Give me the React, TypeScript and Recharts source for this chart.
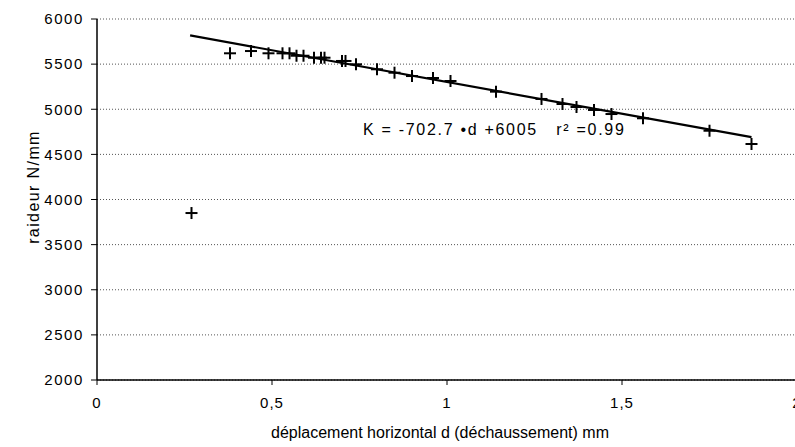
import React from "react";
import { ScatterChart, Scatter, XAxis, YAxis, CartesianGrid } from "recharts";

const measuredD = [0.27, 0.38, 0.44, 0.49, 0.53, 0.55, 0.57, 0.59, 0.62, 0.64, 0.65, 0.70, 0.71, 0.74, 0.80, 0.85, 0.90, 0.96, 1.01, 1.14, 1.27, 1.33, 1.37, 1.42, 1.47, 1.56, 1.75, 1.87];
const measuredK = [3850, 5620, 5645, 5620, 5620, 5620, 5593, 5593, 5571, 5571, 5571, 5535, 5535, 5498, 5443, 5405, 5368, 5346, 5313, 5195, 5114, 5058, 5025, 4992, 4947, 4900, 4762, 4615];

const trendD = [0.266, 1.87];
const trendK = [5818, 4691];

const xTicks = [0, 0.5, 1, 1.5, 2];
const yTicks = [2000, 2500, 3000, 3500, 4000, 4500, 5000, 5500, 6000];

const equationText = "K = -702.7 \u2022d +6005   r\u00B2 =0.99";
const xTitle = "déplacement horizontal d (déchaussement) mm";
const yTitle = "raideur N/mm";

const points = measuredD.map((d, i) => ({ d, K: measuredK[i] }));
const trend = trendD.map((d, i) => ({ d, K: trendK[i] }));

const Cross = (props: any) => {
  const { cx, cy } = props;
  if (cx == null || cy == null) return null;
  const s = 6;
  return (
    <g stroke="#000" strokeWidth={2}>
      <line x1={cx - s} y1={cy} x2={cx + s} y2={cy} />
      <line x1={cx} y1={cy - s} x2={cx} y2={cy + s} />
    </g>
  );
};

const fmtX = (v: number) => String(v).replace(".", ",");
const font = "'Liberation Sans', Arial, sans-serif";

export default function App() {
  return (
    <div style={{ position: "absolute", left: 0, top: 0, width: 795, height: 447, overflow: "hidden", background: "#fff" }}>
      <ScatterChart width={810} height={447} margin={{ top: 19, right: 13, bottom: 37, left: 40 }}>
        <CartesianGrid vertical={false} stroke="#555" strokeDasharray="1 2" />
        <XAxis
          type="number"
          dataKey="d"
          domain={[0, 2]}
          ticks={xTicks}
          tickFormatter={fmtX}
          height={30}
          tickSize={5}
          tickMargin={12}
          axisLine={{ stroke: "#000", strokeWidth: 1.5 }}
          tickLine={{ stroke: "#000" }}
          tick={{ fill: "#000", fontSize: 15, fontFamily: font, letterSpacing: 1 }}
          allowDataOverflow
        />
        <YAxis
          type="number"
          dataKey="K"
          domain={[2000, 6000]}
          ticks={yTicks}
          width={57}
          tickSize={6}
          tickMargin={7}
          axisLine={{ stroke: "#000", strokeWidth: 1.5 }}
          tickLine={{ stroke: "#000" }}
          tick={{ fill: "#000", fontSize: 15, fontFamily: font, letterSpacing: 1.6 }}
          allowDataOverflow
        />
        <Scatter data={trend} line={{ stroke: "#000", strokeWidth: 2.2 }} shape={() => null} isAnimationActive={false} />
        <Scatter data={points} shape={Cross} isAnimationActive={false} />
      </ScatterChart>
      <div style={{ position: "absolute", left: 363, top: 121, fontFamily: font, fontSize: 16, letterSpacing: 1.7, color: "#000", whiteSpace: "pre", lineHeight: "18px" }}>
        {equationText}
      </div>
      <div style={{ position: "absolute", left: 440, top: 424, transform: "translateX(-50%)", fontFamily: font, fontSize: 16, color: "#000", whiteSpace: "pre", lineHeight: "18px" }}>
        {xTitle}
      </div>
      <div style={{ position: "absolute", left: 34, top: 187, transform: "translate(-50%, -50%) rotate(-90deg)", fontFamily: font, fontSize: 16, letterSpacing: 1.4, color: "#000", whiteSpace: "pre", lineHeight: "18px" }}>
        {yTitle}
      </div>
    </div>
  );
}
